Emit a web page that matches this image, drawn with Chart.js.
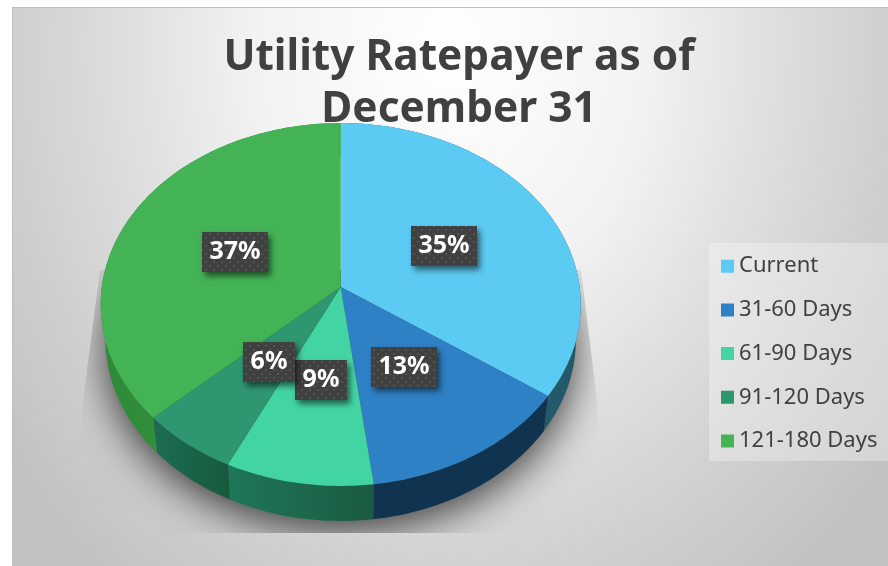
<!DOCTYPE html>
<html>
<head>
<meta charset="utf-8">
<title>Utility Ratepayer as of December 31</title>
<script src="https://cdn.jsdelivr.net/npm/chart.js@4/dist/chart.umd.min.js"></script>
<style>
  html, body { margin: 0; padding: 0; background: #fff; }
  canvas { display: block; }
</style>
</head>
<body>
<canvas id="chart" width="888" height="566"></canvas>
<script>
const categories = ['Current', '31-60 Days', '61-90 Days', '91-120 Days', '121-180 Days'];
const shares = [34.7, 13.3, 9.1, 6.0, 36.9];
const titleLines = ['Utility Ratepayer as of', 'December 31'];

const topColors = ['#5ccbf3', '#2e81c4', '#43d4a4', '#2e9770', '#43b356'];
const wallColors = [
  ['#27626f', '#235868'],
  ['#10344f', '#10334f'],
  ['#1f7759', '#1b5a40'],
  ['#1b6d52', '#185a3d'],
  ['#2d8a39', '#3ea03f'],
];
const tagNudgeX = [0, -1, 0, 2, 2];

// tilted disc: the far half is squeezed, the near half is stretched
const TILT = -0.0964;
const SCALE_X = 0.9954;
const SCALE_Y = 0.749;
const DEPTH = 35;
const BASE_SHRINK = 0.98;

function project(arc, cos, sin) {
  const w = 1 + TILT * sin;
  return {
    x: arc.x + arc.outerRadius * SCALE_X * cos / w,
    y: arc.y + arc.outerRadius * SCALE_Y * sin / w,
  };
}

function rimPoints(arc, from, to) {
  const pts = [];
  const steps = Math.max(2, Math.ceil(Math.abs(to - from) / 0.02));
  for (let i = 0; i <= steps; i++) {
    const a = from + (to - from) * i / steps;
    pts.push(project(arc, Math.cos(a), Math.sin(a)));
  }
  return pts;
}

function toBase(arc, p) {
  return { x: arc.x + (p.x - arc.x) * BASE_SHRINK, y: p.y + DEPTH };
}

function tracePoly(ctx, pts) {
  ctx.beginPath();
  pts.forEach((p, i) => (i ? ctx.lineTo(p.x, p.y) : ctx.moveTo(p.x, p.y)));
  ctx.closePath();
}

function dotPattern(ctx) {
  const tile = document.createElement('canvas');
  tile.width = 8;
  tile.height = 8;
  const t = tile.getContext('2d');
  t.fillStyle = '#404040';
  t.fillRect(0, 0, 8, 8);
  t.fillStyle = '#535353';
  t.fillRect(1, 1, 2, 2);
  t.fillRect(5, 5, 2, 2);
  return ctx.createPattern(tile, 'repeat');
}

const framePlugin = {
  id: 'frame',
  afterLayout(chart) {
    // plot sits left of the legend, legend runs to the right edge
    Object.assign(chart.chartArea, { left: 100.7, right: 580.7, top: 47, bottom: 527, width: 480, height: 480 });
    chart.legend.left = 705.3;
    chart.legend.right = 888;
    chart.legend.top = 233.5;
    chart.legend.bottom = 540;
    chart.titleBlock.left = 30;
    chart.titleBlock.right = 888;
  },
  beforeDraw(chart) {
    const ctx = chart.ctx;
    ctx.save();
    ctx.fillStyle = '#fff';
    ctx.fillRect(0, 0, 888, 566);
    ctx.beginPath();
    ctx.rect(12, 7, 876, 559);
    ctx.clip();
    ctx.save();
    ctx.translate(450, 50);
    ctx.scale(1, 1.22);
    const g = ctx.createRadialGradient(0, 0, 0, 0, 0, 550);
    g.addColorStop(0, '#ffffff');
    g.addColorStop(0.36, '#f2f2f2');
    g.addColorStop(0.6, '#dedede');
    g.addColorStop(0.8, '#cfcfcf');
    g.addColorStop(1, '#c2c2c2');
    ctx.fillStyle = g;
    ctx.fillRect(-500, -100, 1000, 600);
    ctx.restore();
    ctx.fillStyle = '#bfbfbf';
    ctx.fillRect(12, 6, 876, 2);
    ctx.fillRect(11, 6, 2, 560);
    ctx.restore();
    // legend panel
    ctx.fillStyle = 'rgba(255,255,255,0.3)';
    ctx.fillRect(709, 243, 179, 218);
  },
};

const discPlugin = {
  id: 'disc',
  beforeDatasetDraw() {
    return false;
  },
  afterDatasetsDraw(chart) {
    const ctx = chart.ctx;
    const arcs = chart.getDatasetMeta(0).data;
    const first = arcs[0];
    const full = rimPoints(first, 0, Math.PI * 2);

    // blurred shadow of the base only; the shape itself is parked off canvas
    ctx.save();
    ctx.beginPath();
    ctx.moveTo(100, 270);
    ctx.lineTo(581, 270);
    ctx.lineTo(598, 408);
    ctx.lineTo(598, 533);
    ctx.lineTo(82, 533);
    ctx.lineTo(82, 408);
    ctx.closePath();
    ctx.clip();
    ctx.shadowColor = 'rgba(0,0,0,0.72)';
    ctx.shadowBlur = 40;
    ctx.shadowOffsetX = 2000;
    ctx.fillStyle = '#000';
    tracePoly(ctx, full.map(p => {
      const b = toBase(first, p);
      return { x: b.x - 2000, y: b.y + 10 };
    }));
    ctx.fill();
    ctx.restore();

    // side walls
    arcs.forEach((arc, i) => {
      const rim = rimPoints(arc, arc.startAngle, arc.endAngle);
      const base = rim.map(p => toBase(arc, p)).reverse();
      const xs = rim.map(p => p.x);
      const g = ctx.createLinearGradient(Math.min(...xs), 0, Math.max(...xs), 0);
      g.addColorStop(0, wallColors[i][0]);
      g.addColorStop(1, wallColors[i][1]);
      ctx.fillStyle = g;
      tracePoly(ctx, rim.concat(base));
      ctx.fill();
    });

    // top faces
    arcs.forEach((arc, i) => {
      const pts = [{ x: arc.x, y: arc.y }].concat(rimPoints(arc, arc.startAngle, arc.endAngle));
      ctx.fillStyle = topColors[i];
      tracePoly(ctx, pts);
      ctx.fill();
    });

    // percent tags at the middle of each slice
    const pattern = dotPattern(ctx);
    ctx.font = 'bold 25px "Noto Sans"';
    ctx.textAlign = 'center';
    ctx.textBaseline = 'middle';
    arcs.forEach((arc, i) => {
      const mid = (arc.startAngle + arc.endAngle) / 2;
      const p = project(arc, Math.cos(mid) / 2, Math.sin(mid) / 2);
      const text = Math.round(shares[i]) + '%';
      const w = Math.round(ctx.measureText(text).width) + 15;
      const x = Math.round(p.x + tagNudgeX[i] - w / 2);
      const y = Math.round(p.y - 20);
      ctx.save();
      ctx.shadowColor = 'rgba(0,0,0,0.55)';
      ctx.shadowBlur = 6;
      ctx.shadowOffsetX = 3;
      ctx.shadowOffsetY = 4;
      ctx.fillStyle = '#404040';
      ctx.fillRect(x, y, w, 40);
      ctx.restore();
      ctx.fillStyle = pattern;
      ctx.fillRect(x, y, w, 40);
      ctx.fillStyle = '#fff';
      ctx.fillText(text, x + w / 2, y + 20);
    });
  },
};

new Chart(document.getElementById('chart'), {
  type: 'pie',
  data: {
    labels: categories,
    datasets: [{ data: shares, backgroundColor: topColors, borderWidth: 0 }],
  },
  plugins: [framePlugin, discPlugin],
  options: {
    responsive: false,
    animation: false,
    plugins: {
      tooltip: { enabled: false },
      title: {
        display: true,
        text: titleLines,
        color: '#404040',
        font: { family: '"Noto Sans"', size: 42.4, weight: 'bold', lineHeight: 1.23 },
        padding: { top: 32, bottom: 0 },
      },
      legend: {
        position: 'right',
        align: 'start',
        labels: {
          color: '#404040',
          font: { family: '"Noto Sans"', size: 22 },
          boxWidth: 1,
          boxHeight: 1,
          padding: 21.7,
          generateLabels: chart => chart.data.labels.map((text, i) => ({
            text,
            index: i,
            fillStyle: topColors[i],
            strokeStyle: topColors[i],
            lineWidth: 12,
            fontColor: '#404040',
          })),
        },
      },
    },
  },
});
</script>
</body>
</html>
